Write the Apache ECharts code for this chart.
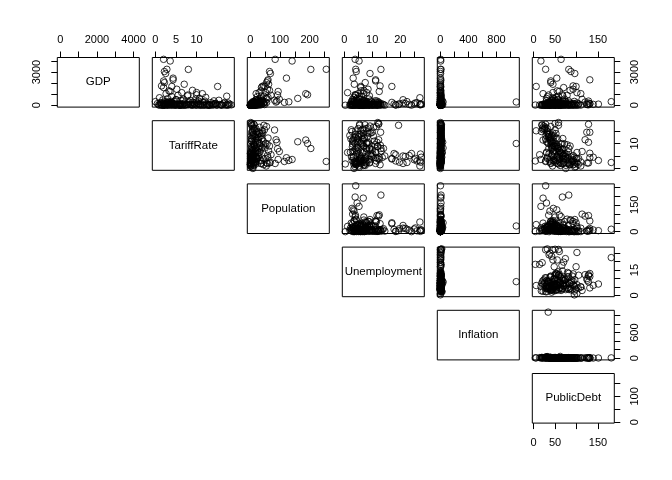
<!DOCTYPE html>
<html><head><meta charset="utf-8">
<script src="https://cdn.jsdelivr.net/npm/echarts@6/dist/echarts.min.js"></script>
<style>html,body{margin:0;padding:0;background:#fff}#c{width:672px;height:480px}</style>
</head><body><div id="c"></div>
<script>
const varNames = ['GDP','TariffRate','Population','Unemployment','Inflation','PublicDebt'];

const gdp = [4150,4000,3250,3240,3050,2870,2450,2300,2200,2050,1750,1700,1700,1600,1250,1050,1140,950,620,930,
680,300,500,1150,820,450,380,290,540,310,260,200,150,90,120,80,100,330,60,45,
70,110,95,40,130,75,210,20,35,160,140,115,65,230,190,260,12,520,450,380,
330,280,240,210,190,175,160,145,130,118,105,98,88,80,72,65,58,52,47,42,
38,34,30,27,24,21,18,16,14,12,10,9,8,7,6,5,4,3.5,3,2.5,
2,1.5,1,600,560,480,430,400,350,300,900,850,780,720,1350,1450,1900,1300,250,1050,
55,33,26,19,15,11,9.5,7.5,6.5,5.5,4.5,3.8,70,125,185,240,95,62,48,28,
25,60,90,35,85,44,17,13,8.5,150,205,270,345,410,175,56,23,37,68,102,135,29,16.5,11.5,78,112,220,165,48,31];

const tariffRate = [2.0,3.6,2.8,8.0,2.2,2.5,4.3,4.3,2.0,2.2,1.5,4.0,15.1,2.0,3.6,11.4,6.4,10.0,10.7,7.9,
1.0,10.0,5.0,10.0,17.3,15.4,10.5,11.5,6.8,3.2,2.8,17.7,14.5,14.5,6.1,4.5,3.2,2.4,2.2,2.2,
3.0,4.5,2.5,5.8,3.5,5.2,4.0,3.0,5.5,4.8,2.5,6.0,17.3,3.0,2.0,3.8,6.0,5.0,8.5,12.0,
0.0,9.0,13.5,1.5,7.0,16.5,2.8,11.0,4.0,14.0,6.5,9.5,1.2,12.5,3.5,15.5,8.0,5.5,10.5,0.8,
13.0,7.5,2.0,16.0,4.5,11.5,6.0,1.0,9.0,14.8,3.0,7.2,12.8,5.0,10.0,2.5,17.0,8.8,4.0,13.2,
6.5,11.0,1.8,3.0,9.8,1.8,6.2,14.2,4.6,8.2,5.5,7.8,4.0,12.2,9.0,5.2,7.0,3.3,16.8,2.6,
8.4,12.0,3.8,15.0,5.8,9.8,1.5,13.8,7.0,11.8,2.2,16.2,6.8,4.2,10.2,1.2,13.6,8.9,4.9,12.4,
17.7,16.0,18.0,18.4,2.4,7.9,13.1,4.7,10.9,0.5,8.1,11.9,3.9,6.6,14.6,9.3,1.6,15.8,5.1,10.6,2.9,12.7,6.3,17.5,8.6,4.4,9.4,1.9,14.1,3.4];

const population = [84,141,256,204,65,68,122,60,58,55,45,50,40,38,94,187,30,193,160,92,
54,32,20,52,46,82,90,87,98,130,115,12,8,5,18,10,6,14,4,3,
7,9,11,2,15,9,21,1.5,3,19,17,13,6,5,35,45,0.5,28,40,22,
9,33,16,11,25,31,7,44,5,38,20,14,3,29,10,48,17,8,24,2,
36,12,4,19,6,27,9,1,13,22,2.5,8,15,3.5,11,0.8,6,4,1.2,9,
2,5,0.4,35,57,19,26,42,13,50,70,37,24,60,65,58,62,36,55,20,
6.5,4.5,2.2,7.5,3.2,1.8,0.6,10.5,2.8,5.5,0.9,12.5,16.5,23,30,12,26,14.5,7,18,
3,8,5,2,9.5,5.8,3.6,1.4,4.2,8.5,27,39,21,33,29,11.5,1.1,14,4.8,17.5,6.2,9.8,2.1,13.5,21.5,11,46,3.8,32,1.7];

const unemployment = [3.9,5.3,4.1,13.1,4.3,9.2,3.2,11.2,11.2,7.5,12.8,17.0,5.9,5.9,12.5,6.8,1.2,3.9,4.6,4.0,
27.0,8.2,21.0,8.0,5.5,7.0,11.7,12.3,3.0,2.8,3.5,12.3,13.0,10.0,4.5,6.0,6.8,22.4,9.0,8.0,
27.0,27.5,27.3,27.2,25.0,23.2,25.4,18.4,18.4,21.8,19.7,17.8,19.4,26.0,21.0,17.0,24.0,6.0,4.5,7.2,
3.5,9.8,5.0,4.2,8.0,10.5,6.5,3.0,12.0,6.8,2.2,11.0,7.5,4.0,9.0,2.5,14.0,5.5,8.5,3.8,
6.2,10.0,4.8,7.8,12.5,3.2,9.5,5.2,6.8,2.8,11.5,4.4,8.2,14.5,6.0,3.6,9.2,12.0,5.8,2.0,
7.0,10.8,0.4,5.2,8.8,3.4,6.6,9.5,2.6,7.8,4.2,9.0,6.2,3.5,7.0,8.5,3.6,6.0,11.5,5.0,
5.0,6.5,8.8,4.1,10.2,3.0,7.2,5.6,13.2,2.4,6.4,8.6,4.9,7.6,5.8,6.9,3.9,11.8,9.9,7.1,
5.5,5.0,12.3,12.0,4.6,7.9,10.4,3.3,6.1,5.4,9.1,4.7,7.3,11.1,8.3,12.9,4.3,6.6,9.6,3.4,7.7,5.1,11.3,7.4,2.9,13.6,6.3,4.0,8.9,5.9];

const inflation = [5.9,7.4,3.5,12.0,4.9,5.2,4.0,8.0,6.0,3.0,3.9,2.5,6.0,4.5,7.0,9.0,2.0,6.5,11.0,5.0,
3.0,1080,4.0,3.0,14.0,9.0,6.0,8.0,5.0,4.0,3.0,7.0,5.0,4.0,3.0,2.0,3.0,6.0,2.0,2.0,
15.0,22.0,10.0,8.0,12.0,9.0,5.0,6.0,11.0,7.0,4.0,8.0,5.0,10.0,6.0,8.0,3.0,4.2,6.1,3.8,
2.1,7.5,12.0,2.8,5.5,9.0,3.2,18.0,4.5,7.2,25.0,5.0,1.5,8.8,3.5,11.0,6.5,4.0,35.0,2.2,
9.5,5.8,2.6,14.0,4.1,7.0,6.0,1.8,10.5,6.8,3.0,5.2,8.0,4.8,16.0,2.4,7.8,5.5,3.4,9.2,
4.6,6.4,2.0,3.6,6.2,2.4,28.0,8.5,3.1,40.0,3.5,4.5,6.5,5.0,5.4,4.0,3.8,4.8,13.0,3.0,
3.6,5.0,2.9,12.5,4.3,6.9,1.9,8.4,4.7,20.0,2.7,10.2,5.3,4.4,7.9,2.5,9.7,6.3,3.9,15.0,
6,9,7,5,3.3,5.6,8.1,2.3,7.3,1.7,6.7,9.9,3.7,5.1,11.7,6.0,2.6,13.5,4.2,8.6,2.9,10.8,4.9,17.0,5.7,3.8,7.1,2.2,12.2,3.1];

const publicDebt = [64,17,28,82,87,96,54,131,40,40,92,99,6,70,60,22,101,67,30,35,
44,34,45,45,58,50,128,120,113,46,38,128,131,124,131,139,151,181,125,128,
28,32,50,58,38,42,101,4,14,74,70,66,20,60,55,48,36,55,42,68,
75,48,35,85,60,27,92,40,105,52,30,78,62,45,88,22,57,70,33,98,
48,65,80,26,54,40,73,110,46,18,90,60,35,67,50,82,24,58,76,42,
63,38,95,48,72,58,30,45,95,62,78,68,32,52,85,92,45,55,40,110,
44,56,71,31,49,64,83,37,52,28,101,21,47,59,43,76,34,51,69,39,
28,32,50,58,61,43,29,87,47,96,56,38,69,81,33,53,104,25,74,42,88,36,62,19,50,79,41,67,31,93];

const tickValues = [[0,1000,2000,3000,4000],[0,5,10,15],[0,50,100,150,200,250],[0,5,10,15,20,25],[0,200,400,600,800,1000],[0,50,100,150]];
const xLabelValues = [[0,2000,4000],[0,5,10],[0,100,200],[0,10,20],[0,400,800],[0,50,150]];
const yLabelValues = [[0,3000],[0,10],[0,150],[0,15],[0,600],[0,100]];

const vars = [gdp, tariffRate, population, unemployment, inflation, publicDebt];
function rng(a){const mn=Math.min(...a), mx=Math.max(...a), p=0.04*(mx-mn); return [mn-p, mx+p];}
const ranges = vars.map(rng);

const L0=57.3, CS=95, W=82, T0=57.5, RS=63.2, H=49.6;
const FONT='"Liberation Sans", Arial, Helvetica, sans-serif';
const FS=11, FSD=11.5;
const fmt = v => String(v);
const grids=[], xAxes=[], yAxes=[], series=[], graphics=[];
for (let i=0;i<6;i++){
  for (let j=i;j<6;j++){
    const idx = grids.length;
    const left = L0+CS*j, top = T0+RS*i;
    grids.push({left:left, top:top, width:W, height:H, show:true, borderColor:'#000', borderWidth:1, backgroundColor:'transparent'});
    const xTop = (i===0), xBottom = (i===5 && j===5);
    xAxes.push({gridIndex:idx, type:'value', min:ranges[j][0], max:ranges[j][1],
      position: xBottom?'bottom':'top', show: xTop||xBottom,
      axisLine:{show:false, onZero:false}, splitLine:{show:false},
      axisTick:{show:true, inside:false, length:6, customValues:tickValues[j], lineStyle:{color:'#000', width:1}},
      axisLabel:{show:true, customValues:xLabelValues[j], formatter:fmt, margin: xBottom?14:12, color:'#000', fontSize:FS, fontFamily:FONT}});
    const yRight = (j===5), yLeft = (i===0 && j===0);
    yAxes.push({gridIndex:idx, type:'value', min:ranges[i][0], max:ranges[i][1],
      position: yLeft?'left':'right', show: yRight||yLeft,
      axisLine:{show:false, onZero:false}, splitLine:{show:false},
      axisTick:{show:true, inside:false, length:6, customValues:tickValues[i], lineStyle:{color:'#000', width:1}},
      axisLabel:{show:true, customValues:yLabelValues[i], formatter:fmt, rotate:90, margin:15, color:'#000', fontSize:FS, fontFamily:FONT}});
    if (i===j){
      graphics.push({type:'text', x:left+W/2, y:top+H/2,
        style:{text:varNames[i], font:FSD+'px '+FONT, fill:'#000', align:'center', verticalAlign:'middle', textAlign:'center', textVerticalAlign:'middle'}});
    } else {
      series.push({type:'scatter', xAxisIndex:idx, yAxisIndex:idx,
        data: vars[j].map((v,k)=>[v, vars[i][k]]),
        symbol:'circle', symbolSize:6.5,
        itemStyle:{color:'rgba(0,0,0,0)', borderColor:'#000', borderWidth:1},
        emphasis:{disabled:true}, silent:true});
    }
  }
}
const chart = echarts.init(document.getElementById('c'), null, {renderer:'canvas'});
chart.setOption({animation:false, backgroundColor:'#fff', grid:grids, xAxis:xAxes, yAxis:yAxes, series:series, graphic:graphics});
</script></body></html>
